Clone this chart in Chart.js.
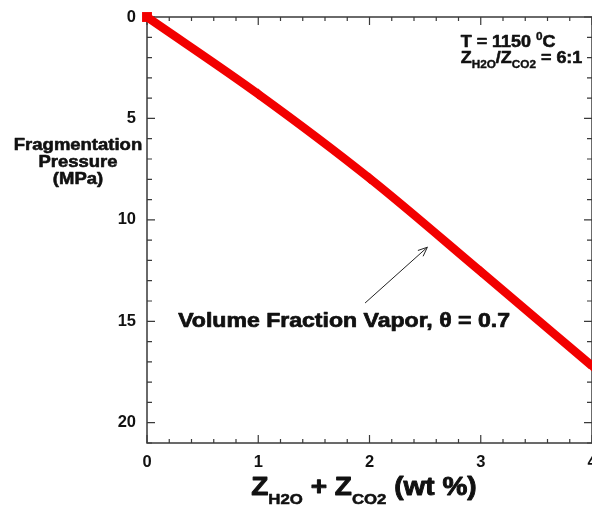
<!DOCTYPE html>
<html lang="en">
<head>
<meta charset="UTF-8" />
<title>Fragmentation Pressure</title>
<script src="https://cdn.jsdelivr.net/npm/chart.js@4"></script>
<style>
  html, body { margin: 0; padding: 0; background: #fff; }
  #wrap { width: 592px; height: 506px; }
</style>
</head>
<body>
<div id="wrap"><canvas id="frag" width="592" height="506"></canvas></div>
<script>
  // Z_H2O + Z_CO2 (wt %) against fragmentation pressure (MPa), theta = 0.7
  const volatiles = [0, 1, 2, 3, 4];
  const fragPressure = [0, 3.8, 7.95, 12.55, 17.2];
  const xTickLabels = [0, 1, 2, 3, 4];
  const yTickLabels = [0, 5, 10, 15, 20];
  const xMinorStep = 0.2;
  const yMinorStep = 1;
  // arrow from the label to the curve, in data units
  const arrowFrom = [1.96, 14.1];
  const arrowTo = [2.52, 11.35];

  const FONT = "'Liberation Sans', Arial, Helvetica, sans-serif";
  const SX = 1.12;          // letters are drawn slightly wide
  const AXIS = '#3a3a3a';
  const RED = '#f20000';
  const INK = '#111';

  // draw a run of [text, size, dy] pieces (for sub/superscripts)
  function runs(ctx, parts, x, y, align) {
    let w = 0;
    parts.forEach(p => { ctx.font = `bold ${p[1]}px ${FONT}`; w += ctx.measureText(p[0]).width * SX; });
    let cx = align === 'center' ? x - w / 2 : align === 'right' ? x - w : x;
    ctx.textAlign = 'left';
    ctx.textBaseline = 'alphabetic';
    ctx.fillStyle = INK;
    ctx.strokeStyle = INK;
    ctx.lineJoin = 'round';
    parts.forEach(p => {
      ctx.font = `bold ${p[1]}px ${FONT}`;
      const pw = ctx.measureText(p[0]).width * SX;
      ctx.save();
      ctx.translate(cx, y + (p[2] || 0));
      ctx.scale(SX, 1);
      ctx.lineWidth = p[1] / 28;
      ctx.fillText(p[0], 0, 0);
      ctx.strokeText(p[0], 0, 0);
      ctx.restore();
      cx += pw;
    });
  }

  const frame = {
    id: 'frame',
    beforeDatasetsDraw(chart) {
      const { ctx, chartArea: a, scales: { x, y } } = chart;
      ctx.save();
      ctx.strokeStyle = AXIS;
      ctx.lineWidth = 1.5;
      ctx.strokeRect(a.left, a.top, a.right - a.left, a.bottom - a.top);
      ctx.lineWidth = 1.2;
      ctx.beginPath();
      const ny = Math.round((y.max - y.min) / yMinorStep);
      for (let i = 0; i <= ny; i++) {
        const v = y.min + i * yMinorStep;
        const py = y.getPixelForValue(v);
        const len = yTickLabels.includes(v) ? 8 : 5;
        ctx.moveTo(a.left, py); ctx.lineTo(a.left + len, py);
        ctx.moveTo(a.right, py); ctx.lineTo(a.right - len, py);
      }
      const nx = Math.round((x.max - x.min) / xMinorStep);
      for (let i = 0; i <= nx; i++) {
        const v = x.min + i * xMinorStep;
        const px = x.getPixelForValue(v);
        const len = Math.abs(v - Math.round(v)) < 1e-6 ? 8 : 4;
        ctx.moveTo(px, a.bottom); ctx.lineTo(px, a.bottom - len);
        ctx.moveTo(px, a.top); ctx.lineTo(px, a.top + len);
      }
      ctx.stroke();
      ctx.restore();
    },
    afterDraw(chart) {
      const { ctx, chartArea: a, scales: { x, y } } = chart;
      ctx.save();
      // axis titles
      runs(ctx, [['Fragmentation', 16.5]], a.left - 69, 150, 'center');
      runs(ctx, [['Pressure', 16.5]], a.left - 69, 167, 'center');
      runs(ctx, [['(MPa)', 16.5]], a.left - 69, 184, 'center');
      runs(ctx, [['Z', 25], ['H2O', 15, 9], [' + Z', 25], ['CO2', 15, 9], [' (wt %)', 25]],
        x.getPixelForValue(1.95), a.bottom + 52, 'center');

      // conditions
      runs(ctx, [['T = 1150 ', 16], ['0', 10.5, -7], ['C', 16]],
        x.getPixelForValue(2.82), y.getPixelForValue(1.47), 'left');
      runs(ctx, [['Z', 16], ['H2O', 10.5, 5], ['/Z', 16], ['CO2', 10.5, 5], [' = 6:1', 16]],
        x.getPixelForValue(2.82), y.getPixelForValue(2.28), 'left');

      // curve label and arrow
      runs(ctx, [['Volume Fraction Vapor, \u03b8 = 0.7', 20.6]],
        x.getPixelForValue(0.28), y.getPixelForValue(15.3), 'left');
      const x0 = x.getPixelForValue(arrowFrom[0]), y0 = y.getPixelForValue(arrowFrom[1]);
      const x1 = x.getPixelForValue(arrowTo[0]), y1 = y.getPixelForValue(arrowTo[1]);
      const ang = Math.atan2(y1 - y0, x1 - x0);
      ctx.strokeStyle = '#222';
      ctx.lineWidth = 1;
      ctx.beginPath();
      ctx.moveTo(x0, y0); ctx.lineTo(x1, y1);
      ctx.moveTo(x1 - 10 * Math.cos(ang - 0.4), y1 - 10 * Math.sin(ang - 0.4));
      ctx.lineTo(x1, y1);
      ctx.lineTo(x1 - 10 * Math.cos(ang + 0.4), y1 - 10 * Math.sin(ang + 0.4));
      ctx.stroke();
      ctx.restore();
    }
  };

  const tickFont = { family: FONT, size: 16.5, weight: 'bold' };

  new Chart(document.getElementById('frag'), {
    type: 'line',
    data: {
      datasets: [{
        data: volatiles.map((v, i) => ({ x: v, y: fragPressure[i] })),
        borderColor: RED,
        backgroundColor: RED,
        borderWidth: 8.5,
        cubicInterpolationMode: 'monotone',
        pointStyle: ['rect', 'rectRot', 'rectRot', 'rectRot', 'rectRot'],
        pointRadius: [7, 5.5, 5.5, 5.5, 5.5],
        pointBorderWidth: 0,
        clip: false
      }]
    },
    options: {
      responsive: false,
      animation: false,
      devicePixelRatio: 1,
      layout: { autoPadding: false, padding: { top: 17, right: 0, left: 0, bottom: 0 } },
      plugins: { legend: { display: false }, tooltip: { enabled: false } },
      scales: {
        x: {
          type: 'linear', min: 0, max: 4,
          grid: { display: false, drawTicks: false },
          border: { display: false },
          afterBuildTicks: s => { s.ticks = xTickLabels.map(v => ({ value: v })); },
          afterFit: s => { s.height = 63; s.paddingLeft = 0; s.paddingRight = 0; },
          ticks: { padding: 10, color: INK, font: tickFont, maxRotation: 0, autoSkip: false }
        },
        y: {
          type: 'linear', reverse: true, min: 0, max: 21,
          grid: { display: false, drawTicks: false },
          border: { display: false },
          afterBuildTicks: s => { s.ticks = yTickLabels.map(v => ({ value: v })); },
          afterFit: s => { s.width = 147; s.paddingTop = 0; s.paddingBottom = 0; },
          ticks: { padding: 11, color: INK, font: tickFont }
        }
      }
    },
    plugins: [frame]
  });
</script>
</body>
</html>
